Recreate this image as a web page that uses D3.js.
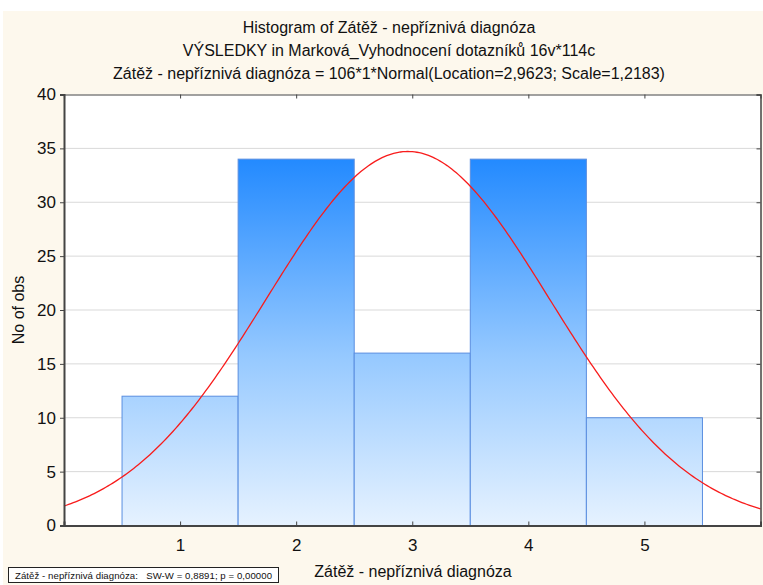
<!DOCTYPE html>
<html>
<head>
<meta charset="utf-8">
<script src="https://cdn.jsdelivr.net/npm/d3@7"></script>
<style>
  body { margin: 0; background: #fff; }
  svg { display: block; font-family: "Liberation Sans", Arial, sans-serif; }
</style>
</head>
<body>
<svg id="chart" width="763" height="585"></svg>
<script>
// histogram data
const binStarts = [0.5, 1.5, 2.5, 3.5, 4.5];
const binWidth = 1;
const counts = [12, 34, 16, 34, 10];
const xTicks = [1, 2, 3, 4, 5];
const yTicks = [0, 5, 10, 15, 20, 25, 30, 35, 40];

// fitted normal from title
const fitN = 106;
const fitLocation = 2.9623;
const fitScale = 1.2183;

const titles = [
    "Histogram of Zátěž - nepříznivá diagnóza",
    "VÝSLEDKY in Marková_Vyhodnocení dotazníků 16v*114c",
    "Zátěž - nepříznivá diagnóza = 106*1*Normal(Location=2,9623; Scale=1,2183)"
];
const xTitle = "Zátěž - nepříznivá diagnóza";
const yTitle = "No of obs";
const footer = "Zátěž - nepříznivá diagnóza:   SW-W = 0,8891; p = 0,00000";

const margin = { top: 94.5, right: 2.5, bottom: 59.5, left: 64 };
const W = 763, H = 585;
const svg = d3.select("#chart");

// beige panel
svg.append("rect")
    .attr("x", 3).attr("y", 11)
    .attr("width", W - 3).attr("height", H - 11)
    .attr("fill", "#fdf8ed");

const x = d3.scaleLinear().domain([0, 6]).range([margin.left, W - margin.right]);
const y = d3.scaleLinear().domain([0, 40]).range([H - margin.bottom, margin.top]);

// plot area
svg.append("rect")
    .attr("x", x(0)).attr("y", y(40))
    .attr("width", x(6) - x(0)).attr("height", y(0) - y(40))
    .attr("fill", "#fff");

// gradient for the bars
const grad = svg.append("defs").append("linearGradient")
    .attr("id", "barGrad")
    .attr("gradientUnits", "userSpaceOnUse")
    .attr("x1", 0).attr("x2", 0)
    .attr("y1", y(0)).attr("y2", y(34));
grad.append("stop").attr("offset", 0).attr("stop-color", "#e6f2ff");
grad.append("stop").attr("offset", 0.45).attr("stop-color", "#98caff");
grad.append("stop").attr("offset", 1).attr("stop-color", "#238aff");

// gridlines
svg.append("g")
    .selectAll("line")
    .data(yTicks.filter(d => d > 0 && d < 40))
    .join("line")
    .attr("x1", x(0)).attr("x2", x(6))
    .attr("y1", d => y(d)).attr("y2", d => y(d))
    .attr("stroke", "#d9d9d9")
    .attr("stroke-width", 1);

// bars
svg.append("g")
    .selectAll("rect")
    .data(counts)
    .join("rect")
    .attr("x", (d, i) => x(binStarts[i]))
    .attr("y", d => y(d))
    .attr("width", (d, i) => x(binStarts[i] + binWidth) - x(binStarts[i]))
    .attr("height", d => y(0) - y(d))
    .attr("fill", "url(#barGrad)")
    .attr("stroke", "#5a8ee0")
    .attr("stroke-width", 1);

// normal curve
const curveX = d3.range(0, 6.001, 0.02);
const pdf = v => fitN * binWidth * Math.exp(-0.5 * Math.pow((v - fitLocation) / fitScale, 2)) /
    (fitScale * Math.sqrt(2 * Math.PI));
svg.append("path")
    .datum(curveX)
    .attr("fill", "none")
    .attr("stroke", "#f81c1c")
    .attr("stroke-width", 1.3)
    .attr("d", d3.line().x(d => x(d)).y(d => y(pdf(d))));

// axes
const axisColor = "#444";
const fmt = d3.format("d");
const gL = svg.append("g").attr("transform", `translate(${x(0)},0)`)
    .call(d3.axisLeft(y).tickValues(yTicks).tickFormat(fmt).tickSize(4).tickPadding(4));
const gB = svg.append("g").attr("transform", `translate(0,${y(0)})`)
    .call(d3.axisBottom(x).tickValues(xTicks).tickFormat(fmt).tickSize(-4).tickPadding(13));
const gT = svg.append("g").attr("transform", `translate(0,${y(40)})`)
    .call(d3.axisTop(x).tickValues(xTicks).tickSize(-4).tickFormat(""));
const gR = svg.append("g").attr("transform", `translate(${x(6)},0)`)
    .call(d3.axisRight(y).tickValues(yTicks).tickSize(-4).tickFormat(""));

[gL, gB, gT, gR].forEach(g => {
    g.select(".domain").attr("stroke", axisColor);
    g.selectAll(".tick line").attr("stroke", axisColor);
    g.selectAll("text")
        .attr("fill", "#111")
        .style("font-size", "17px")
        .style("font-family", "Liberation Sans, Arial, sans-serif");
});
gL.select(".domain").attr("stroke-width", 2);
gB.select(".domain").attr("stroke-width", 2);
gT.select(".domain").attr("stroke-width", 1.2);
gR.select(".domain").attr("stroke-width", 1.5);

// titles
svg.append("g")
    .selectAll("text")
    .data(titles)
    .join("text")
    .attr("x", 389)
    .attr("y", (d, i) => 33 + i * 23)
    .attr("text-anchor", "middle")
    .style("font-size", "16px")
    .attr("fill", "#111")
    .text(d => d);

svg.append("text")
    .attr("x", 413).attr("y", 577)
    .attr("text-anchor", "middle")
    .style("font-size", "16px")
    .attr("fill", "#111")
    .text(xTitle);

svg.append("text")
    .attr("transform", `translate(24,${(y(0) + y(40)) / 2}) rotate(-90)`)
    .attr("text-anchor", "middle")
    .style("font-size", "16px")
    .attr("fill", "#111")
    .text(yTitle);

// footer box
const foot = svg.append("g");
foot.append("rect")
    .attr("x", 8.5).attr("y", 567.5)
    .attr("width", 270).attr("height", 15)
    .attr("fill", "#fff")
    .attr("stroke", "#222")
    .attr("stroke-width", 1);
foot.append("text")
    .attr("x", 15).attr("y", 578.5)
    .style("font-size", "9.6px")
    .attr("fill", "#111")
    .attr("xml:space", "preserve")
    .style("white-space", "pre")
    .attr("textLength", 257)
    .attr("lengthAdjust", "spacing")
    .text(footer);
</script>
</body>
</html>
